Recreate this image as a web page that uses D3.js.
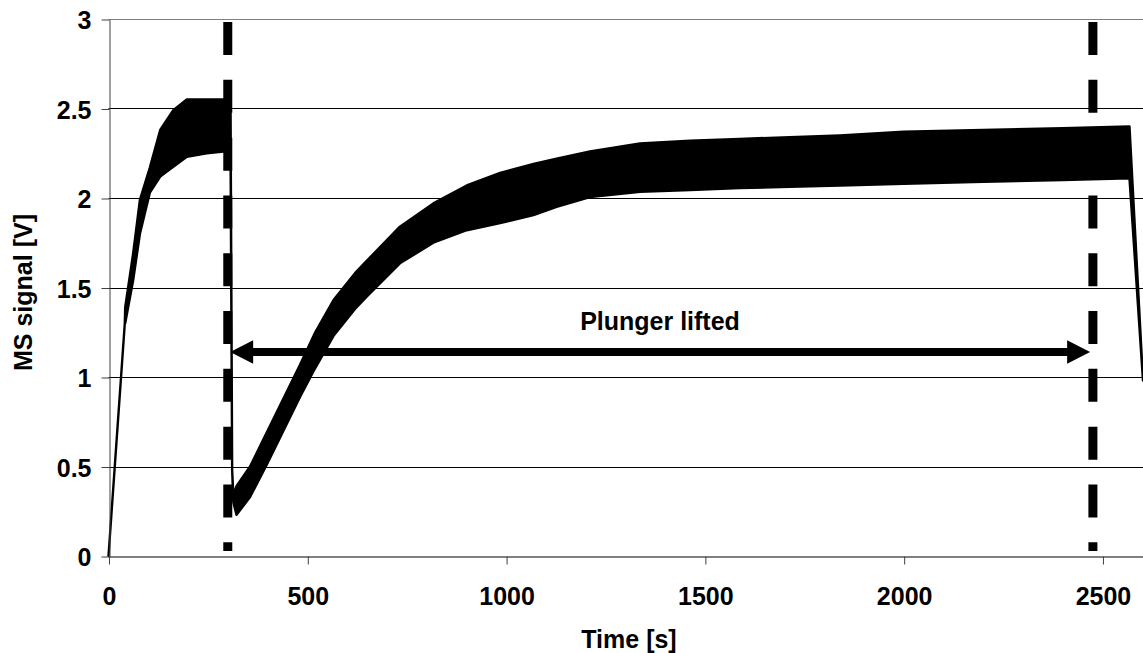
<!DOCTYPE html>
<html>
<head>
<meta charset="utf-8">
<script src="https://cdn.jsdelivr.net/npm/d3@7"></script>
<style>
	body { margin: 0; background: #fff; }
	svg text { font-family: "Liberation Sans", Arial, sans-serif; font-weight: bold; fill: #000; }
</style>
</head>
<body>
<div id="chart"></div>
<script>
var traceTime = [0, 41, 42, 62, 79, 104, 130, 163, 197, 247, 289, 307, 311, 314, 322, 356, 398, 440, 482,
	520, 566, 620, 650, 733, 817, 901, 985, 1069, 1127, 1211, 1337, 1463, 1588, 1714, 1840, 2000, 2200, 2400, 2568, 2602];
var traceLow = [0, 1.30, 1.30, 1.54, 1.80, 2.03, 2.12, 2.175, 2.23, 2.25, 2.26, 2.25, 0.48, 0.30, 0.23, 0.33, 0.51, 0.70, 0.89,
	1.05, 1.23, 1.38, 1.45, 1.635, 1.75, 1.82, 1.86, 1.905, 1.95, 2.005, 2.035, 2.045, 2.055, 2.063, 2.07, 2.08, 2.09, 2.10, 2.11, 0.98];
var traceHigh = [0, 1.30, 1.39, 1.69, 1.99, 2.17, 2.38, 2.49, 2.55, 2.55, 2.55, 2.52, 0.48, 0.34, 0.39, 0.50, 0.69, 0.88, 1.07,
	1.25, 1.43, 1.58, 1.65, 1.84, 1.97, 2.07, 2.14, 2.19, 2.22, 2.26, 2.305, 2.32, 2.33, 2.34, 2.35, 2.37, 2.38, 2.39, 2.40, 0.98];

// dashed markers (plunger lifted / lowered) and the arrow between them
var markerTimes = [300, 2476];
var markerTop = 2.983;
var markerBottom = 0.028;
var arrowFrom = 306;
var arrowTo = 2469;
var arrowLevel = 1.14;
var arrowLabel = "Plunger lifted";

var xTicks = [0, 500, 1000, 1500, 2000, 2500];
var xTickLabels = ["0", "500", "1000", "1500", "2000", "2500"];
var yTicks = [0, 0.5, 1, 1.5, 2, 2.5, 3];
var yTickLabels = ["0", "0.5", "1", "1.5", "2", "2.5", "3"];
var xTitle = "Time [s]";
var yTitle = "MS signal [V]";

var width = 1143, height = 653;
var plot = { left: 108.5, right: 1143, top: 19, bottom: 556 };

var svg = d3.select("#chart").append("svg")
	.attr("width", width)
	.attr("height", height);

var x = d3.scaleLinear().domain([0, 2602]).range([plot.left, plot.right]);
var y = d3.scaleLinear().domain([0, 3]).range([plot.bottom, plot.top]);

// crisp 1px lines
function crisp(v) { return Math.round(v) + 0.5; }

// gridlines (top one is the plot border, grey)
svg.append("g").selectAll("line")
	.data(yTicks.filter(function (d) { return d > 0; }))
	.join("line")
	.attr("x1", plot.left).attr("x2", plot.right)
	.attr("y1", function (d) { return crisp(y(d)); })
	.attr("y2", function (d) { return crisp(y(d)); })
	.attr("stroke", function (d) { return d === 3 ? "#808080" : "#000"; })
	.attr("stroke-width", 1);

// the signal trace; where low == high it is just a thin line
var trace = traceTime.map(function (t, i) { return { t: t, lo: traceLow[i], hi: traceHigh[i] }; });

var band = d3.area()
	.x(function (d) { return x(d.t); })
	.y0(function (d) { return y(d.lo); })
	.y1(function (d) { return y(d.hi); });

svg.append("path")
	.datum(trace)
	.attr("d", band)
	.attr("fill", "#000")
	.attr("stroke", "#000")
	.attr("stroke-width", 2.4)
	.attr("stroke-linejoin", "round");

// dashed vertical markers
svg.append("g").selectAll("line")
	.data(markerTimes)
	.join("line")
	.attr("x1", function (d) { return x(d); })
	.attr("x2", function (d) { return x(d); })
	.attr("y1", y(markerTop))
	.attr("y2", y(markerBottom))
	.attr("stroke", "#000")
	.attr("stroke-width", 9)
	.attr("stroke-dasharray", "33 24.8");

// double-headed arrow
var ay = y(arrowLevel), ax0 = x(arrowFrom), ax1 = x(arrowTo);
var headLen = 23, headHalf = 11.7;
svg.append("line")
	.attr("x1", ax0 + headLen - 2).attr("x2", ax1 - headLen + 2)
	.attr("y1", ay).attr("y2", ay)
	.attr("stroke", "#000")
	.attr("stroke-width", 8);
svg.append("path")
	.attr("d", "M" + ax0 + "," + ay + "L" + (ax0 + headLen) + "," + (ay - headHalf) + "L" + (ax0 + headLen) + "," + (ay + headHalf) + "Z" +
		"M" + ax1 + "," + ay + "L" + (ax1 - headLen) + "," + (ay - headHalf) + "L" + (ax1 - headLen) + "," + (ay + headHalf) + "Z")
	.attr("fill", "#000");

svg.append("text")
	.attr("x", 660)
	.attr("y", ay - 21.5)
	.attr("text-anchor", "middle")
	.style("font-size", "25px")
	.text(arrowLabel);

// axes
var yAxis = d3.axisLeft(y)
	.tickValues(yTicks)
	.tickFormat(function (d, i) { return yTickLabels[i]; })
	.tickSize(8)
	.tickSizeOuter(0)
	.tickPadding(10);

var yg = svg.append("g")
	.attr("transform", "translate(" + crisp(plot.left) + ",0.5)")
	.call(yAxis);
yg.select(".domain").attr("stroke", "#404040");
yg.selectAll(".tick line").attr("stroke", "#404040");
yg.selectAll(".tick text")
	.attr("dy", "0.36em")
	.style("font-size", "25px");

var xAxis = d3.axisBottom(x)
	.tickValues(xTicks)
	.tickFormat(function (d, i) { return xTickLabels[i]; })
	.tickSize(8)
	.tickSizeOuter(0)
	.tickPadding(23);

var xg = svg.append("g")
	.attr("transform", "translate(0.5," + crisp(plot.bottom) + ")")
	.call(xAxis);
xg.select(".domain").attr("stroke", "#000");
xg.selectAll(".tick line").attr("stroke", "#404040");
xg.selectAll(".tick text").style("font-size", "25px");

// axis titles
svg.append("text")
	.attr("x", 629)
	.attr("y", 648)
	.attr("text-anchor", "middle")
	.style("font-size", "25px")
	.text(xTitle);

svg.append("text")
	.attr("transform", "translate(32,292.5) rotate(-90)")
	.attr("text-anchor", "middle")
	.style("font-size", "25px")
	.text(yTitle);
</script>
</body>
</html>
